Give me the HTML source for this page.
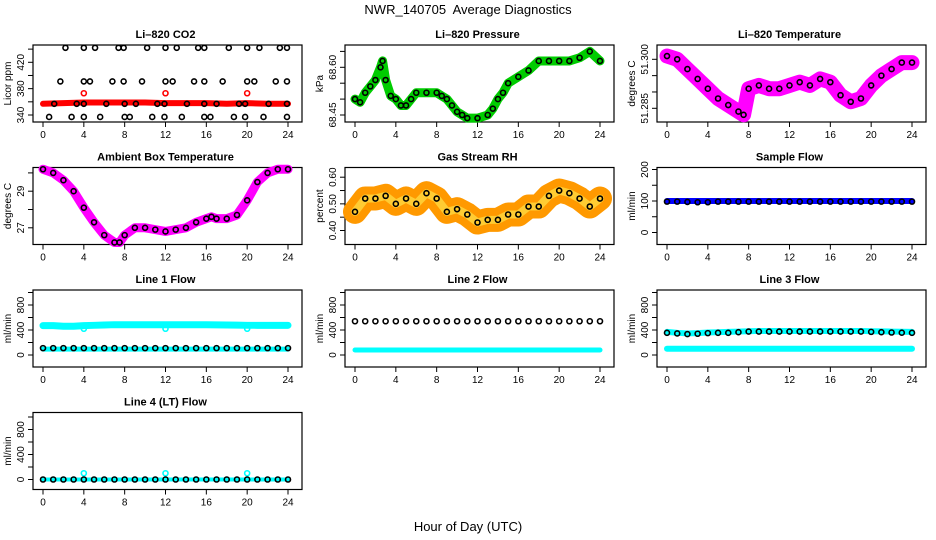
<!DOCTYPE html>
<html><head><meta charset="utf-8"><style>
body{margin:0;background:#fff}
svg{display:block;font-family:"Liberation Sans",sans-serif}
</style></head><body>
<svg id="c" width="936" height="540" viewBox="0 0 936 540">
<text x="468" y="14" text-anchor="middle" font-size="13">NWR_140705&#160; Average Diagnostics</text>
<text x="468" y="531" text-anchor="middle" font-size="13">Hour of Day (UTC)</text>
</svg>
<script>
// ---- data ----
const hourTicks = [0,4,8,12,16,20,24];
const co2T = [2.2,4,5.1,7.4,7.9,10.2,12,13.1,15.2,15.8,18.2,20,21.2,23.2,23.9, 1.7,4,4.6,6.8,7.9,9.7,12,12.7,14.8,15.8,17.6,20,20.7,22.8,23.9, 1.1,3.3,4,6.2,8,9.1,11.2,11.9,14.1,15.8,17,19.2,19.8,22.1,23.9, 0.6,2.8,4,5.6,8,8.5,10.7,11.9,13.6,15.8,16.4,18.7,19.8,21.6,23.9];
const co2V = [442,442,442,442,442,442,442,442,442,442,442,442,442,442,442, 391,391,391,391,391,391,391,391,391,391,391,391,391,391,391, 357,357,357,357,357,357,357,357,357,357,357,357,357,357,357, 337,337,337,337,337,337,337,337,337,337,337,337,337,337,337];
const co2RedT = [0,2,4,6,8,10,12,14,16,18,20,22,24];
const co2RedV = [357,358,359,359,359,359,358,358,358,357,358,357,357];
const co2OutT = [4,12,20];
const co2OutV = [373,373,373];
const presT = [0,0.5,1,1.5,2,2.5,2.7,3,3.5,4,4.5,5,5.5,6,7,8,8.5,9,9.5,10,10.5,11,12,13,13.5,14,14.5,15,16,17,18,19,20,21,22,23,24];
const presV = [68.50,68.49,68.52,68.54,68.56,68.60,68.62,68.56,68.51,68.50,68.48,68.48,68.50,68.52,68.52,68.52,68.51,68.50,68.48,68.46,68.45,68.44,68.44,68.45,68.47,68.50,68.52,68.55,68.57,68.59,68.62,68.62,68.62,68.62,68.63,68.65,68.62];
const ltT = [0,1,2,3,4,5,6,7,7.5,8,9,10,11,12,13,14,15,16,17,18,19,20,21,22,23,24];
const ltV = [51.301,51.300,51.297,51.294,51.291,51.288,51.286,51.284,51.283,51.291,51.292,51.291,51.291,51.292,51.293,51.292,51.294,51.293,51.289,51.287,51.288,51.292,51.295,51.297,51.299,51.299];
const ambT = [0,1,2,3,4,5,6,7,7.5,8,9,10,11,12,13,14,15,16,16.5,17,18,19,20,21,22,23,24];
const ambV = [30.2,30.0,29.6,29.0,28.1,27.3,26.6,26.2,26.2,26.6,27.0,27.0,26.9,26.8,26.9,27.0,27.3,27.5,27.6,27.5,27.5,27.7,28.5,29.5,30.0,30.2,30.2];
const rhT = [0,1,2,3,4,5,6,7,8,9,10,11,12,13,14,15,16,17,18,19,20,21,22,23,24];
const rhV = [0.47,0.52,0.52,0.53,0.50,0.52,0.50,0.54,0.52,0.47,0.48,0.46,0.43,0.44,0.44,0.46,0.46,0.49,0.49,0.53,0.55,0.54,0.52,0.49,0.52];
const flowT = [0,1,2,3,4,5,6,7,8,9,10,11,12,13,14,15,16,17,18,19,20,21,22,23,24];
const sampleBlue = [100,100,100,100,100,100,100,100,100,100,100,100,100,100,100,100,100,100,100,100,100,100,100,100,100];
const sampleBlack = [98,98,97,96,96,98,98,98,98,98,98,98,98,98,98,98,98,98,98,98,98,98,98,98,98];
const line1Cyan = [470,470,460,460,470,475,480,485,485,485,485,485,485,485,485,485,485,482,480,478,475,475,475,475,475];
const line1Low = [95,95,95,95,95,95,95,95,95,95,95,95,95,95,95,95,95,95,95,95,95,95,95,95,95];
const line1Black = [110,110,110,110,110,110,110,110,110,110,110,110,110,110,110,110,110,110,110,110,110,110,110,110,110];
const line2Cyan = [80,80,80,80,80,80,80,80,80,80,80,80,80,80,80,80,80,80,80,80,80,80,80,80,80];
const line2Black = [540,540,540,540,540,540,540,540,540,540,540,540,540,540,540,540,540,540,540,540,540,540,540,540,540];
const line3Cyan = [370,355,345,350,360,365,370,375,380,385,385,385,385,385,385,385,385,385,385,385,380,378,375,372,370];
const line3Low = [100,100,100,100,100,100,100,100,100,100,100,100,100,100,100,100,100,100,100,100,100,100,100,100,100];
const line3Black = [355,345,335,340,350,355,355,365,375,375,375,375,375,375,375,375,375,375,375,375,370,365,360,357,355];
const line4Cyan = [0,0,0,0,0,0,0,0,0,0,0,0,0,0,0,0,0,0,0,0,0,0,0,0,0];
const line4Black = [0,0,0,0,0,0,0,0,0,0,0,0,0,0,0,0,0,0,0,0,0,0,0,0,0];
const outT = [4,12,20];
const line1Out = [420,420,420];
const line4Out = [100,100,100];

const NS="http://www.w3.org/2000/svg", svg=document.getElementById('c');
function mk(tag,attrs,parent){const e=document.createElementNS(NS,tag);for(const k in attrs)e.setAttribute(k,attrs[k]);(parent||svg).appendChild(e);return e;}

function panel(name,col,row,title,ylab,ticks,labels,v1,o1,v2,o2){
  const L=33+312*col, T=45+122.5*row, W=269, H=77;
  const g=mk('g',{});
  
  
  const xs=t=>L+10+t*(245/24);
  const ys=v=>T+o1+(v-v1)*(o2-o1)/(v2-v1);
  const box=mk('rect',{x:L,y:T,width:W,height:H,fill:'none',stroke:'#000','stroke-width':1.2},g);
  
  
  const tt=mk('text',{x:L+W/2-2,y:T-7,'text-anchor':'middle','font-size':11,'font-weight':'bold'},g);
  tt.textContent=title;
  
  
  const xa=mk('g',{},g);
  
  
  mk('line',{x1:xs(0),x2:xs(24),y1:T+H,y2:T+H,stroke:'#000'},xa);
  hourTicks.forEach(h=>{
    mk('line',{x1:xs(h),x2:xs(h),y1:T+H,y2:T+H+5,stroke:'#000'},xa);
    const t=mk('text',{x:xs(h),y:T+H+16,'text-anchor':'middle','font-size':10},xa);
    t.textContent=h;
    
    
  });
  const ya=mk('g',{},g);
  
  
  mk('line',{x1:L,x2:L,y1:ys(ticks[0]),y2:ys(ticks[ticks.length-1]),stroke:'#000'},ya);
  ticks.forEach(v=>{
    const y=ys(v);
    mk('line',{x1:L-5,x2:L,y1:y,y2:y,stroke:'#000'},ya);
  });
  labels.forEach(s=>{
    const y=ys(Number(s));
    const t=mk('text',{x:L-9,y:y,'text-anchor':'middle','font-size':10,transform:`rotate(-90 ${L-9} ${y})`},ya);
    t.textContent=s;
    
    
  });
  const yl=mk('text',{x:L-22,y:T+H/2,'text-anchor':'middle','font-size':10,transform:`rotate(-90 ${L-22} ${T+H/2})`},g);
  yl.textContent=ylab;
  
  
  return {g,xs,ys};
}
function band(p,T,V,color,w,name){
  const pl=mk('polyline',{points:T.map((t,i)=>p.xs(t)+','+p.ys(V[i])).join(' '),fill:'none',stroke:color,'stroke-width':w,'stroke-linejoin':'round','stroke-linecap':'round'},p.g);
  
  
}
function pts(p,T,V,color,name,sw){
  T.forEach((t,i)=>{
    const c=mk('circle',{cx:p.xs(t),cy:p.ys(V[i]),r:2.5,fill:'none',stroke:color,'stroke-width':sw||1.6},p.g);
    
    
  });
}

let p;
p=panel('co2',0,0,'Li–820 CO2','Licor ppm',[340,360,380,400,420,440],['340','380','420'],340,70,420,17.3);
band(p,co2RedT,co2RedV,'#f00',6,'co2-red-series');
pts(p,co2OutT,co2OutV,'#f00','co2-red-point');
pts(p,co2T,co2V,'#000','co2-black-point');

p=panel('pressure',1,0,'Li–820 Pressure','kPa',[68.45,68.5,68.55,68.6,68.65],['68.45','68.60'],68.45,70,68.60,22.3);
band(p,presT,presV,'#0c0',9,'pressure-green-series');
pts(p,presT,presV,'#000','pressure-black-point');

p=panel('li-temp',2,0,'Li–820 Temperature','degrees C',[51.285,51.29,51.295,51.3],['51.285','51.300'],51.285,63.3,51.3,14.3);
band(p,ltT,ltV,'#f0f',15,'li-temp-magenta-series');
pts(p,ltT,ltV,'#000','li-temp-black-point');

p=panel('ambient',0,1,'Ambient Box Temperature','degrees C',[27,28,29,30],['27','29'],27,60.3,29,23.7);
band(p,ambT,ambV,'#f0f',9,'ambient-magenta-series');
pts(p,ambT,ambV,'#000','ambient-black-point');

p=panel('rh',1,1,'Gas Stream RH','percent',[0.4,0.45,0.5,0.55,0.6],['0.40','0.50','0.60'],0.40,63,0.60,9.7);
band(p,rhT,rhV,'#f90',24,'rh-orange-series');
band(p,rhT,rhV,'#fc3',8,'rh-yellow-series');
pts(p,rhT,rhV,'#000','rh-black-point');

p=panel('sample-flow',2,1,'Sample Flow','ml/min',[0,50,100,150,200],['0','100','200'],0,65,200,2);
band(p,flowT,sampleBlue,'#00f',6,'sample-blue-series');
pts(p,flowT,sampleBlack,'#000','sample-black-point');

const fT=[0,200,400,600,800,1000], fL=['0','400','800'];
p=panel('line1',0,2,'Line 1 Flow','ml/min',fT,fL,0,65,800,15);
band(p,flowT,line1Cyan,'#0ff',7,'line1-cyan-series');
band(p,flowT,line1Low,'#0ff',5,'line1-cyan-low-series');
pts(p,outT,line1Out,'#0ff','line1-cyan-outlier');
pts(p,flowT,line1Black,'#000','line1-black-point');

p=panel('line2',1,2,'Line 2 Flow','ml/min',fT,fL,0,65,800,15);
band(p,flowT,line2Cyan,'#0ff',5,'line2-cyan-series');
pts(p,flowT,line2Black,'#000','line2-black-point');

p=panel('line3',2,2,'Line 3 Flow','ml/min',fT,fL,0,65,800,15);
band(p,flowT,line3Low,'#0ff',6,'line3-cyan-low-series');
band(p,flowT,line3Cyan,'#0ff',6,'line3-cyan-series');
pts(p,flowT,line3Black,'#000','line3-black-point');

p=panel('line4',0,3,'Line 4 (LT) Flow','ml/min',fT,fL,0,67,800,17);
band(p,flowT,line4Cyan,'#0ff',4,'line4-cyan-series');
pts(p,outT,line4Out,'#0ff','line4-cyan-outlier');
pts(p,flowT,line4Black,'#000','line4-black-point');
</script>
</body></html>
